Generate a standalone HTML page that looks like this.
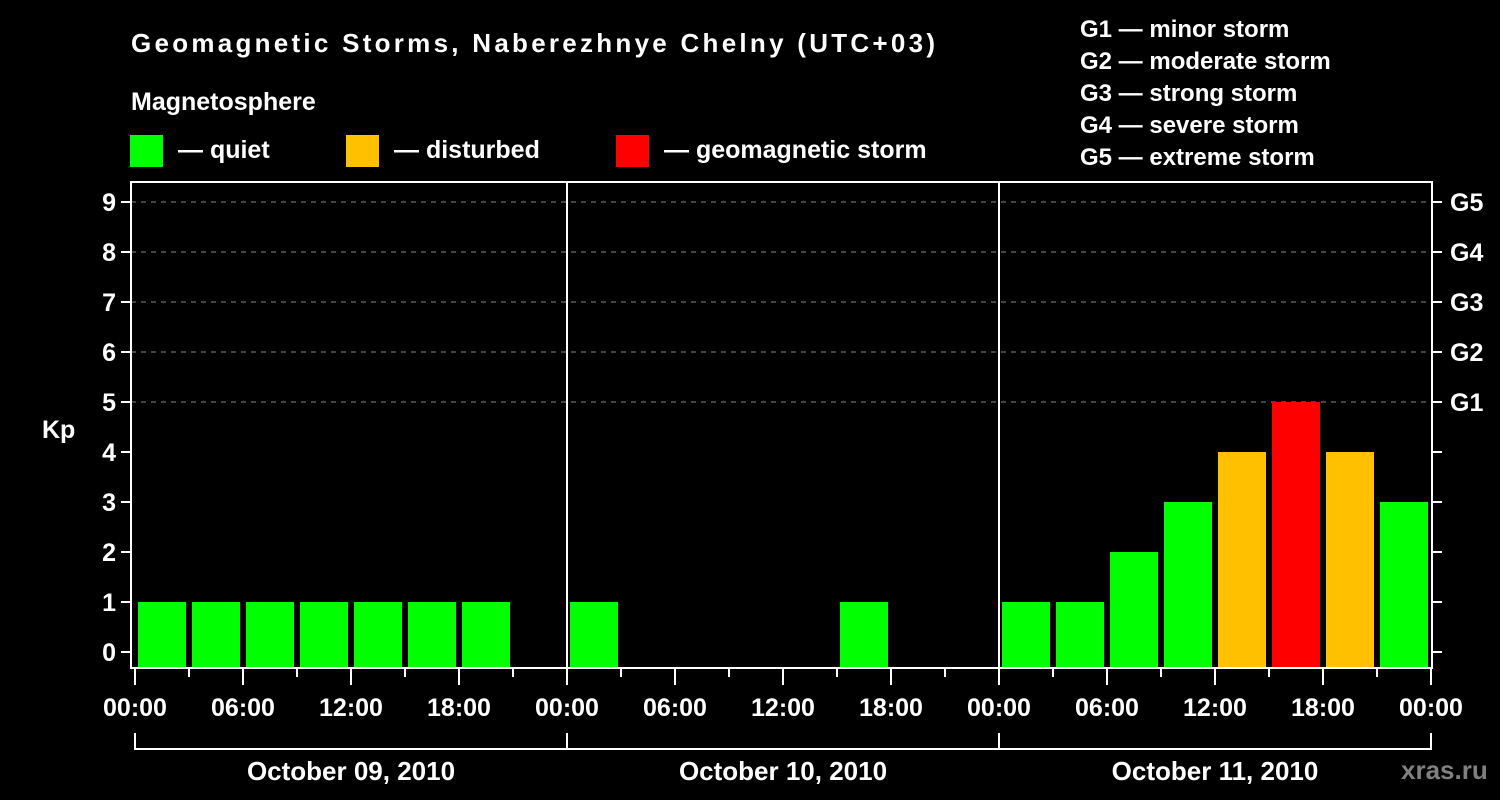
<!DOCTYPE html>
<html><head><meta charset="utf-8"><style>
html,body{margin:0;padding:0;background:#000;width:1500px;height:800px;overflow:hidden}
svg text{font-family:"Liberation Sans",sans-serif;font-weight:bold;fill:#fff}
</style></head><body>
<svg id="chart" width="1500" height="800" xmlns="http://www.w3.org/2000/svg">
<text x="131" y="52" font-size="26" textLength="804">Geomagnetic Storms, Naberezhnye Chelny (UTC+03)</text>
<text x="131" y="110" font-size="25">Magnetosphere</text>
<g><rect x="130" y="135" width="33" height="32" fill="#00ff00"/><text x="178" y="158" font-size="25">— quiet</text></g>
<g><rect x="346" y="135" width="33" height="32" fill="#ffc000"/><text x="394" y="158" font-size="25">— disturbed</text></g>
<g><rect x="616" y="135" width="33" height="32" fill="#ff0000"/><text x="664" y="158" font-size="25">— geomagnetic storm</text></g>
<g font-size="24">
<text x="1080" y="37">G1 — minor storm</text>
<text x="1080" y="69">G2 — moderate storm</text>
<text x="1080" y="101">G3 — strong storm</text>
<text x="1080" y="133">G4 — severe storm</text>
<text x="1080" y="165">G5 — extreme storm</text>
</g>
<text x="42" y="438" font-size="25">Kp</text>
<text x="1401" y="779" font-size="26" style="fill:#808080">xras.ru</text>
<g id="plot"></g>
</svg>
<script>
const days = ["October 09, 2010","October 10, 2010","October 11, 2010"];
const kp = [1,1,1,1,1,1,1,0, 1,0,0,0,0,1,0,0, 1,1,2,3,4,5,4,3];
const yTicks = [0,1,2,3,4,5,6,7,8,9];
const gLabels = ["G1","G2","G3","G4","G5"];
const gLevels = [5,6,7,8,9];
const hourLabels = ["00:00","06:00","12:00","18:00"];

const X0=135, HOUR=18, Y0=652, UNIT=50;
const FL=131, FR=1432, FT=182, FB=668;
const xs = h => X0 + h*HOUR;
const ys = v => Y0 - v*UNIT;
const NS="http://www.w3.org/2000/svg";
const plot=document.getElementById('plot');
function mk(tag,attrs,parent){const e=document.createElementNS(NS,tag);for(const k in attrs)e.setAttribute(k,attrs[k]);(parent||plot).appendChild(e);return e;}

// grid
gLevels.forEach(v=>{
  const l=mk('line',{x1:FL,x2:FR,y1:ys(v),y2:ys(v),stroke:'#888','stroke-width':1,'stroke-dasharray':'5,5'});
  
  
});
// bars
kp.forEach((v,i)=>{
  if(v<=0) return;
  const col = v>=5?'#ff0000':(v>=4?'#ffc000':'#00ff00');
  const r=mk('rect',{x:xs(i*3)+3,y:ys(v),width:48,height:FB-ys(v),fill:col});
  
  
});
// frame
const fr=mk('rect',{x:FL,y:FT,width:FR-FL,height:FB-FT,fill:'none',stroke:'#fff','stroke-width':2});


for(let d=1;d<days.length;d++){
  const l=mk('line',{x1:xs(d*24),x2:xs(d*24),y1:FT,y2:FB,stroke:'#fff','stroke-width':2});
  
  
}
// y ticks and labels
yTicks.forEach(v=>{
  mk('line',{x1:FL-10,x2:FL,y1:ys(v),y2:ys(v),stroke:'#fff','stroke-width':2});
  mk('line',{x1:FR,x2:FR+10,y1:ys(v),y2:ys(v),stroke:'#fff','stroke-width':2});
  const t=mk('text',{x:116,y:ys(v)+9,'font-size':25,'text-anchor':'end'});
  t.textContent=v;
  
  
});
gLabels.forEach((g,i)=>{
  const t=mk('text',{x:1450,y:ys(gLevels[i])+9,'font-size':25});
  t.textContent=g;
  
  
});
// x ticks
const totalH=days.length*24;
for(let h=0;h<=totalH;h+=3){
  const major=h%6===0;
  mk('line',{x1:xs(h),x2:xs(h),y1:FB,y2:major?685:677,stroke:'#fff','stroke-width':2});
  if(major){
    const t=mk('text',{x:xs(h),y:716,'font-size':25,'text-anchor':'middle'});
    t.textContent=hourLabels[(h/6)%4];
    
    
  }
}
// day brackets
mk('line',{x1:xs(0),x2:xs(totalH),y1:749,y2:749,stroke:'#fff','stroke-width':2});
for(let d=0;d<=days.length;d++) mk('line',{x1:xs(d*24),x2:xs(d*24),y1:733,y2:750,stroke:'#fff','stroke-width':2});
days.forEach((d,i)=>{
  const t=mk('text',{x:xs(i*24+12),y:780,'font-size':26,'text-anchor':'middle'});
  t.textContent=d;
  
  
});
</script>
</body></html>
